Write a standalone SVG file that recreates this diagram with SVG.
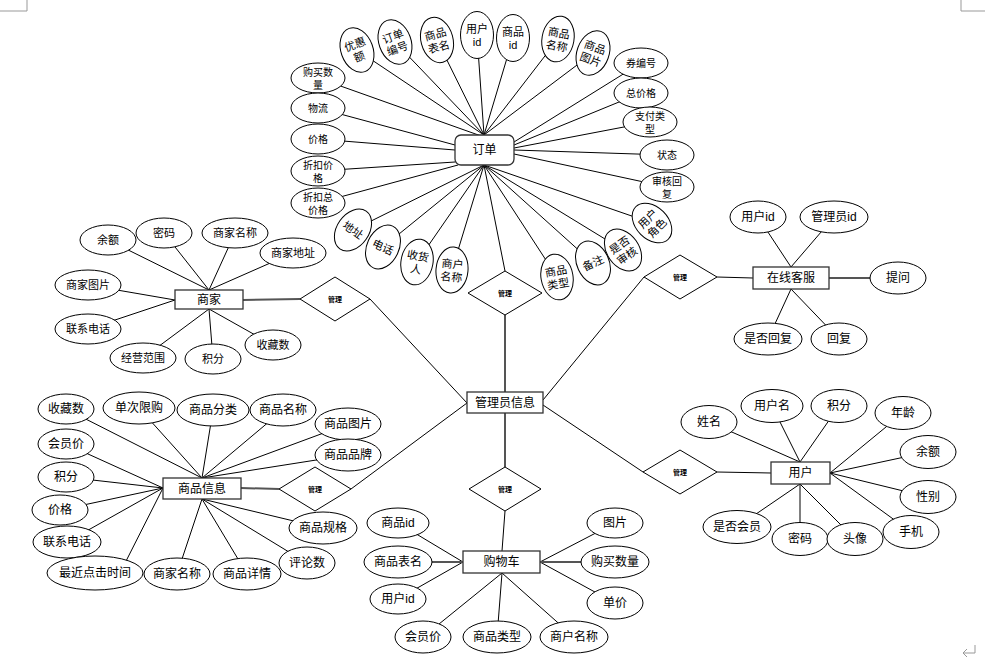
<svg xmlns="http://www.w3.org/2000/svg" width="985" height="658" viewBox="0 0 985 658">
<style>
.ln{stroke:#000;stroke-width:1;fill:none}
.thk{stroke:#555;stroke-width:2;fill:none}
.el{fill:#fff;stroke:#000;stroke-width:1}
.ent{fill:#fff;stroke:#333;stroke-width:1.3}
.dm{fill:#fff;stroke:#000;stroke-width:1}
text{font-family:"Liberation Sans","Noto Sans CJK SC",sans-serif;text-anchor:middle;dominant-baseline:central;fill:#000}
.t{font-size:12px}
.m{font-size:11px}
.s{font-size:10px}
.d{font-size:7px;font-weight:bold}
.mark{stroke:#999;stroke-width:1;fill:none}
</style>
<rect width="985" height="658" fill="#fff"/>
<path class="mark" d="M27,0 V11 H0 M961,0 V11 H985"/>
<path class="mark" d="M975,645 V653 H963 M967,649 L963,653 L967,657"/>

<g id="connectors">
<path class="ln" d="M484,135 L357,50 M484,135 L395,42 M484,135 L437,40 M484,135 L477,35 M484,135 L513,38 M484,135 L558,39 M484,135 L593,53 M484,137 L318,78"/>
<path class="ln" d="M455,145 L318,108 M455,150 L318,139 M455,162 L318,171 M458,165 L318,203"/>
<path class="ln" d="M514,142 L641,63 M514,145 L641,93 M514,148 L650,122 M514,150 L667,155 M514,154 L667,187"/>
<path class="ln" d="M484,165 L353,230 M484,165 L383,247 M484,165 L417,262 M484,165 L452,270 M484,165 L557,277 M484,165 L593,263 M484,165 L623,250 M484,165 L652,223"/>
<path class="ln" d="M484,165 L505,271"/>
<path class="thk" d="M505,315 V392 M505,413 V467"/>
<path class="ln" d="M370,299 L467,403 M351,489 L467,403 M543,400 L644,277 M543,405 L643,472"/>
<path class="thk" d="M243,300 L300,299"/>
<path class="ln" d="M209,290 L108,240 M209,290 L164,233 M209,290 L235,233 M209,290 L293,253 M175,300 L88,285 M175,300 L88,329 M209,309 L143,358 M209,309 L213,359 M209,309 L273,345"/>
<path class="ln" d="M717,277 L753,278 M791,267 L758,217 M791,267 L834,217 M791,289 L768,339 M791,289 L839,339"/>
<path class="thk" d="M829,278 L880,278"/>
<path class="thk" d="M241,488 L279,489"/>
<path class="ln" d="M202,478 L66,409 M202,478 L139,408 M202,478 L213,410 M202,478 L283,410 M202,478 L348,424 M202,478 L348,455"/>
<path class="ln" d="M163,488 L66,444 M163,488 L66,477 M163,488 L60,510 M163,488 L67,542 M163,488 L120,573"/>
<path class="ln" d="M202,499 L177,574 M202,499 L247,574 M202,499 L307,563 M202,499 L323,528"/>
<path class="ln" d="M505,511 L502,551"/>
<path class="ln" d="M463,562 L398,523 M463,562 L398,599 M502,573 L423,637 M502,573 L497,637 M502,573 L574,637 M540,562 L615,523 M540,562 L615,603"/>
<path class="thk" d="M463,562 L420,562 M540,562 L590,562"/>
<path class="ln" d="M717,472 L771,473"/>
<path class="ln" d="M800,462 L709,422 M800,462 L772,406 M800,462 L839,406 M830,473 L903,413 M830,473 L928,452 M830,473 L928,497 M830,473 L911,532 M800,484 L737,527 M800,484 L800,539 M800,484 L855,539"/>
</g>

<g id="order">
<rect class="ent" x="455" y="135" width="59" height="30" rx="6"/>
<text class="t" x="484.5" y="150">订单</text>
</g>
<g id="order-attrs">
<g transform="translate(357,50) rotate(-20)"><ellipse class="el" rx="16" ry="23"/><text class="m" y="-6">优惠</text><text class="m" y="7">额</text></g>
<g transform="translate(395,42) rotate(-20)"><ellipse class="el" rx="16" ry="23"/><text class="m" y="-6">订单</text><text class="m" y="7">编号</text></g>
<g transform="translate(437,40) rotate(-15)"><ellipse class="el" rx="16" ry="23"/><text class="m" y="-6">商品</text><text class="m" y="7">表名</text></g>
<g transform="translate(477,35)"><ellipse class="el" rx="16.5" ry="23.5"/><text class="m" y="-6">用户</text><text class="m" y="7">id</text></g>
<g transform="translate(513,38)"><ellipse class="el" rx="16.5" ry="23.5"/><text class="m" y="-6">商品</text><text class="m" y="7">id</text></g>
<g transform="translate(558,39) rotate(10)"><ellipse class="el" rx="16" ry="23"/><text class="m" y="-6">商品</text><text class="m" y="7">名称</text></g>
<g transform="translate(593,53) rotate(20)"><ellipse class="el" rx="16" ry="23"/><text class="m" y="-6">商品</text><text class="m" y="7">图片</text></g>
<g transform="translate(318,78)"><ellipse class="el" rx="27" ry="15"/><text class="s" y="-6">购买数</text><text class="s" y="7">量</text></g>
<g transform="translate(318,108)"><ellipse class="el" rx="27" ry="15"/><text class="s">物流</text></g>
<g transform="translate(318,139)"><ellipse class="el" rx="27" ry="15"/><text class="s">价格</text></g>
<g transform="translate(318,171)"><ellipse class="el" rx="27" ry="15"/><text class="s" y="-6">折扣价</text><text class="s" y="7">格</text></g>
<g transform="translate(318,203)"><ellipse class="el" rx="27" ry="15"/><text class="s" y="-6">折扣总</text><text class="s" y="7">价格</text></g>
<g transform="translate(641,63)"><ellipse class="el" rx="27" ry="15"/><text class="s">券编号</text></g>
<g transform="translate(641,93)"><ellipse class="el" rx="27" ry="15"/><text class="s">总价格</text></g>
<g transform="translate(650,122)"><ellipse class="el" rx="27" ry="15"/><text class="s" y="-6">支付类</text><text class="s" y="7">型</text></g>
<g transform="translate(667,155)"><ellipse class="el" rx="27" ry="15"/><text class="s">状态</text></g>
<g transform="translate(667,187)"><ellipse class="el" rx="27" ry="15"/><text class="s" y="-6">审核回</text><text class="s" y="7">复</text></g>
<g transform="translate(353,230) rotate(35)"><ellipse class="el" rx="16" ry="23"/><text class="m">地址</text></g>
<g transform="translate(383,247) rotate(25)"><ellipse class="el" rx="16" ry="23"/><text class="m">电话</text></g>
<g transform="translate(417,262) rotate(10)"><ellipse class="el" rx="16" ry="23"/><text class="m" y="-6">收货</text><text class="m" y="7">人</text></g>
<g transform="translate(452,270) rotate(5)"><ellipse class="el" rx="16" ry="23"/><text class="m" y="-6">商户</text><text class="m" y="7">名称</text></g>
<g transform="translate(557,277) rotate(-10)"><ellipse class="el" rx="16" ry="23"/><text class="m" y="-6">商品</text><text class="m" y="7">类型</text></g>
<g transform="translate(593,263) rotate(-25)"><ellipse class="el" rx="16" ry="23"/><text class="m">备注</text></g>
<g transform="translate(623,250) rotate(-35)"><ellipse class="el" rx="16" ry="23"/><text class="m" y="-6">是否</text><text class="m" y="7">审核</text></g>
<g transform="translate(652,223) rotate(-45)"><ellipse class="el" rx="16" ry="23"/><text class="m" y="-6">用户</text><text class="m" y="7">角色</text></g>
</g>

<g id="rel-order"><polygon class="dm" points="505,271 542,293 505,315 468,293"/><text class="d" x="505" y="293">管理</text></g>
<g id="rel-merchant"><polygon class="dm" points="335,277 370,299 335,321 300,299"/><text class="d" x="335" y="299">管理</text></g>
<g id="rel-service"><polygon class="dm" points="680,255 717,277 680,299 644,277"/><text class="d" x="680" y="277">管理</text></g>
<g id="rel-goods"><polygon class="dm" points="315,467 351,489 315,511 279,489"/><text class="d" x="315" y="489">管理</text></g>
<g id="rel-cart"><polygon class="dm" points="505,467 541,489 505,511 469,489"/><text class="d" x="505" y="489">管理</text></g>
<g id="rel-user"><polygon class="dm" points="680,450 717,472 680,494 643,472"/><text class="d" x="680" y="472">管理</text></g>

<g id="admin">
<rect class="ent" x="467" y="392" width="76" height="21"/>
<text class="t" x="505" y="402.5">管理员信息</text>
</g>

<g id="merchant">
<rect class="ent" x="175" y="290" width="68" height="19"/>
<text class="t" x="209" y="299.5">商家</text>
<g transform="translate(108,240)"><ellipse class="el" rx="28" ry="15"/><text class="m">余额</text></g>
<g transform="translate(164,233)"><ellipse class="el" rx="28" ry="15"/><text class="m">密码</text></g>
<g transform="translate(235,233)"><ellipse class="el" rx="33" ry="15"/><text class="m">商家名称</text></g>
<g transform="translate(293,253)"><ellipse class="el" rx="33" ry="15"/><text class="m">商家地址</text></g>
<g transform="translate(88,285)"><ellipse class="el" rx="33" ry="15"/><text class="m">商家图片</text></g>
<g transform="translate(88,329)"><ellipse class="el" rx="33" ry="15"/><text class="m">联系电话</text></g>
<g transform="translate(143,358)"><ellipse class="el" rx="33" ry="15"/><text class="m">经营范围</text></g>
<g transform="translate(213,359)"><ellipse class="el" rx="28" ry="15"/><text class="m">积分</text></g>
<g transform="translate(273,345)"><ellipse class="el" rx="28" ry="15"/><text class="m">收藏数</text></g>
</g>

<g id="service">
<rect class="ent" x="753" y="267" width="76" height="22"/>
<text class="t" x="791" y="278">在线客服</text>
<g transform="translate(758,217)"><ellipse class="el" rx="28" ry="16"/><text class="t">用户id</text></g>
<g transform="translate(834,217)"><ellipse class="el" rx="34" ry="16"/><text class="t">管理员id</text></g>
<g transform="translate(898,278)"><ellipse class="el" rx="28" ry="16"/><text class="t">提问</text></g>
<g transform="translate(768,339)"><ellipse class="el" rx="34" ry="16"/><text class="t">是否回复</text></g>
<g transform="translate(839,339)"><ellipse class="el" rx="28" ry="16"/><text class="t">回复</text></g>
</g>

<g id="goods">
<rect class="ent" x="163" y="478" width="78" height="21"/>
<text class="t" x="202" y="488.5">商品信息</text>
<g transform="translate(66,409)"><ellipse class="el" rx="28" ry="15"/><text class="t">收藏数</text></g>
<g transform="translate(139,408)"><ellipse class="el" rx="36" ry="16"/><text class="t">单次限购</text></g>
<g transform="translate(213,410)"><ellipse class="el" rx="36" ry="16"/><text class="t">商品分类</text></g>
<g transform="translate(283,410)"><ellipse class="el" rx="33" ry="16"/><text class="t">商品名称</text></g>
<g transform="translate(348,424)"><ellipse class="el" rx="33" ry="16"/><text class="t">商品图片</text></g>
<g transform="translate(348,455)"><ellipse class="el" rx="33" ry="16"/><text class="t">商品品牌</text></g>
<g transform="translate(66,444)"><ellipse class="el" rx="28" ry="15"/><text class="t">会员价</text></g>
<g transform="translate(66,477)"><ellipse class="el" rx="28" ry="15"/><text class="t">积分</text></g>
<g transform="translate(60,510)"><ellipse class="el" rx="28" ry="15"/><text class="t">价格</text></g>
<g transform="translate(67,542)"><ellipse class="el" rx="34" ry="16"/><text class="t">联系电话</text></g>
<g transform="translate(95,573)"><ellipse class="el" rx="48" ry="17"/><text class="t">最近点击时间</text></g>
<g transform="translate(177,574)"><ellipse class="el" rx="33" ry="16"/><text class="t">商家名称</text></g>
<g transform="translate(247,574)"><ellipse class="el" rx="34" ry="16"/><text class="t">商品详情</text></g>
<g transform="translate(307,563)"><ellipse class="el" rx="28" ry="16"/><text class="t">评论数</text></g>
<g transform="translate(323,528)"><ellipse class="el" rx="34" ry="16"/><text class="t">商品规格</text></g>
</g>

<g id="cart">
<rect class="ent" x="463" y="551" width="77" height="22"/>
<text class="t" x="501.5" y="562">购物车</text>
<g transform="translate(398,523)"><ellipse class="el" rx="31" ry="15"/><text class="t">商品id</text></g>
<g transform="translate(398,562)"><ellipse class="el" rx="34" ry="16"/><text class="t">商品表名</text></g>
<g transform="translate(398,599)"><ellipse class="el" rx="28" ry="15"/><text class="t">用户id</text></g>
<g transform="translate(423,637)"><ellipse class="el" rx="28" ry="16"/><text class="t">会员价</text></g>
<g transform="translate(497,637)"><ellipse class="el" rx="34" ry="16"/><text class="t">商品类型</text></g>
<g transform="translate(574,637)"><ellipse class="el" rx="34" ry="16"/><text class="t">商户名称</text></g>
<g transform="translate(615,523)"><ellipse class="el" rx="28" ry="15"/><text class="t">图片</text></g>
<g transform="translate(615,562)"><ellipse class="el" rx="34" ry="16"/><text class="t">购买数量</text></g>
<g transform="translate(615,603)"><ellipse class="el" rx="28" ry="16"/><text class="t">单价</text></g>
</g>

<g id="user">
<rect class="ent" x="771" y="462" width="59" height="22"/>
<text class="t" x="800.5" y="473">用户</text>
<g transform="translate(709,422)"><ellipse class="el" rx="28" ry="16.5"/><text class="t">姓名</text></g>
<g transform="translate(772,406)"><ellipse class="el" rx="31" ry="16.5"/><text class="t">用户名</text></g>
<g transform="translate(839,406)"><ellipse class="el" rx="28" ry="16.5"/><text class="t">积分</text></g>
<g transform="translate(903,413)"><ellipse class="el" rx="28" ry="16.5"/><text class="t">年龄</text></g>
<g transform="translate(928,452)"><ellipse class="el" rx="28" ry="16.5"/><text class="t">余额</text></g>
<g transform="translate(928,497)"><ellipse class="el" rx="28" ry="16.5"/><text class="t">性别</text></g>
<g transform="translate(911,532)"><ellipse class="el" rx="28" ry="16.5"/><text class="t">手机</text></g>
<g transform="translate(737,527)"><ellipse class="el" rx="34" ry="16.5"/><text class="t">是否会员</text></g>
<g transform="translate(800,539)"><ellipse class="el" rx="28" ry="16.5"/><text class="t">密码</text></g>
<g transform="translate(855,539)"><ellipse class="el" rx="28" ry="16.5"/><text class="t">头像</text></g>
</g>
</svg>
